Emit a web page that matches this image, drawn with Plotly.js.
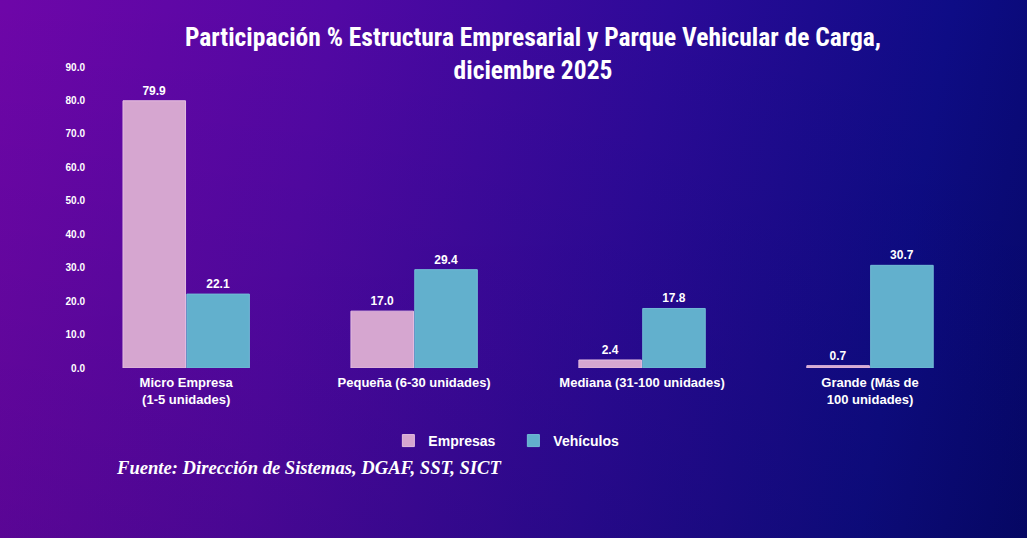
<!DOCTYPE html>
<html>
<head>
<meta charset="utf-8">
<script src="https://cdn.plot.ly/plotly-3.0.1.min.js"></script>
<style>
html,body{margin:0;padding:0;width:1027px;height:538px;overflow:hidden;}
body{background:
 linear-gradient(180deg, rgba(0,0,0,0) 0%, rgba(0,0,20,0.12) 100%),
 linear-gradient(100deg, #6e06a8 0%, #5208a4 30%, #2c0a98 60%, #0e0c86 85%, #06086e 100%);}
#chart{width:1027px;height:538px;}
</style>
</head>
<body>
<div id="chart"></div>
<script>
const categories = ["Micro Empresa<br>(1-5 unidades)", "Pequeña (6-30 unidades)", "Mediana (31-100 unidades)", "Grande (Más de<br>100 unidades)"];
const empresas = [79.9, 17.0, 2.4, 0.7];
const vehiculos = [22.1, 29.4, 17.8, 30.7];
const yTicks = [0, 10, 20, 30, 40, 50, 60, 70, 80, 90];

const labelFont = {family: "Liberation Sans, Arial, sans-serif", size: 12, color: "#ffffff", weight: 700};

const traces = [
  {type: "bar", name: "Empresas", x: categories, y: empresas,
   marker: {color: "#d6a6d0", line: {color: "#e4bde0", width: 1}},
   text: empresas.map(v => v.toFixed(1)), textposition: "outside", textfont: labelFont,
   cliponaxis: false, hoverinfo: "none"},
  {type: "bar", name: "Vehículos", x: categories, y: vehiculos,
   marker: {color: "#62b0cd", line: {color: "#73bcd6", width: 1}},
   text: vehiculos.map(v => v.toFixed(1)), textposition: "outside", textfont: labelFont,
   cliponaxis: false, hoverinfo: "none"}
];

const layout = {
  width: 1027, height: 538,
  paper_bgcolor: "rgba(0,0,0,0)", plot_bgcolor: "rgba(0,0,0,0)",
  margin: {l: 95, r: 43, t: 67, b: 170},
  title: {
    text: "Participación % Estructura Empresarial y Parque Vehicular de Carga,<br>diciembre 2025",
    font: {family: "Roboto Condensed, DejaVu Sans Condensed, Liberation Sans Narrow, sans-serif", size: 25.5, color: "#ffffff", weight: 700},
    x: 0.519, xanchor: "center", xref: "container", yref: "container", y: 0.914, yanchor: "top"
  },
  barmode: "group", bargap: 0.44, bargroupgap: 0.02,
  xaxis: {
    range: [-0.4, 3.5], showgrid: false, zeroline: false, showline: false, ticks: "",
    ticklabelstandoff: 5,
    tickfont: {family: "Liberation Sans, Arial, sans-serif", size: 13, color: "#ffffff", weight: 700}
  },
  yaxis: {
    range: [0, 90], tickvals: yTicks, ticktext: yTicks.map(v => v.toFixed(1)),
    showgrid: false, zeroline: false, showline: false, ticks: "", ticklabelstandoff: 9,
    tickfont: {family: "Liberation Sans, Arial, sans-serif", size: 10, color: "#ffffff", weight: 700}
  },
  showlegend: true,
  legend: {
    orientation: "h", x: 0.33, xanchor: "left", y: -0.2425, yanchor: "middle",
    font: {family: "Liberation Sans, Arial, sans-serif", size: 14, color: "#ffffff", weight: 700},
    entrywidth: 80, entrywidthmode: "pixels", itemwidth: 30, bgcolor: "rgba(0,0,0,0)"
  },
  annotations: [{
    text: "Fuente: Dirección de Sistemas, DGAF, SST, SICT",
    xref: "paper", yref: "paper", x: 0.021, y: -0.332, xanchor: "left", yanchor: "middle",
    showarrow: false,
    font: {family: "Liberation Serif, Times New Roman, serif", size: 18.6, color: "#ffffff", weight: 700, style: "italic"}
  }]
};

Plotly.newPlot("chart", traces, layout, {staticPlot: true, displayModeBar: false});
</script>
</body>
</html>
